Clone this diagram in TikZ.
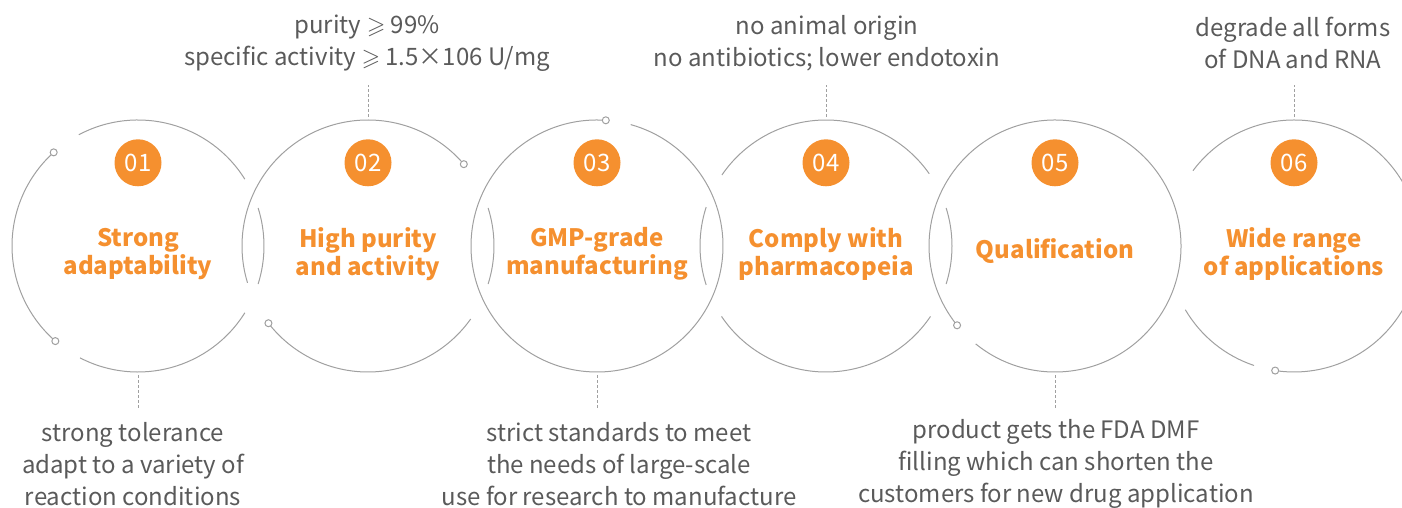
\documentclass[tikz,border=0pt]{standalone}
\usepackage{amssymb}
\usepackage{fontspec}
\setmainfont{Noto Sans CJK SC}
\usepackage{xcolor}
\usepackage{tikz}
\usetikzlibrary{positioning}
\definecolor{amber}{HTML}{F5902F}
\definecolor{ash}{HTML}{A0A0A0}
\definecolor{slate}{HTML}{5A5A5A}

\begin{document}
\begin{tikzpicture}[
  x=1pt, y=1pt,
  ring/.style={draw=ash, line width=1pt},
  hub/.style={circle, minimum size=252pt, inner sep=0pt},
  dot/.style={circle, draw=ash, fill=white, line width=1pt, inner sep=0pt, minimum size=7pt},
  badge/.style={circle, fill=amber, text=white, inner sep=0pt, minimum size=47pt, font=\fontsize{24}{24}\selectfont},
  title/.style={text=amber, align=center, font=\fontsize{24}{28}\selectfont\bfseries},
  note/.style={text=slate, align=center, font=\fontsize{24}{32}\selectfont},
  lead/.style={draw=ash, dash pattern=on 3pt off 2pt, line width=0.8pt}
]
\useasboundingbox (0,0) rectangle (1402,508);

% six rings
\node[hub] (h1) at (138,262) {};
\node[hub] (h2) at (368,262) {};
\node[hub] (h3) at (597,262) {};
\node[hub] (h4) at (826,262) {};
\node[hub] (h5) at (1055,262) {};
\node[hub] (h6) at (1294,262) {};

\draw[ring] (h1.center) ++(32:126) arc[start angle=32, end angle=118, radius=126];
\draw[ring] (h1.center) ++(132:126) node[dot] {} arc[start angle=132, end angle=229, radius=126] node[dot] {};
\draw[ring] (h1.center) ++(242.6:126) arc[start angle=242.6, end angle=328, radius=126];
\draw[ring] (h1.center) ++(-17.6:126) arc[start angle=-17.6, end angle=17.6, radius=126];

\draw[ring] (h2.center) ++(40.5:126) node[dot] {} arc[start angle=40.5, end angle=197, radius=126];
\draw[ring] (h2.center) ++(217.8:126) node[dot] {} arc[start angle=217.8, end angle=324.6, radius=126];
\draw[ring] (h2.center) ++(-17.6:126) arc[start angle=-17.6, end angle=17.6, radius=126];

\draw[ring] (h3.center) ++(86:126) node[dot] {} arc[start angle=86, end angle=434.5, radius=126];

\draw[ring] (h4.center) ++(35:126) arc[start angle=35, end angle=145.7, radius=126];
\draw[ring] (h4.center) ++(162:126) arc[start angle=162, end angle=198, radius=126];
\draw[ring] (h4.center) ++(214:126) arc[start angle=214, end angle=326, radius=126];
\draw[ring] (h4.center) ++(-17.6:126) arc[start angle=-17.6, end angle=17.6, radius=126];

\draw[ring] (h5.center) ++(231:126) arc[start angle=231, end angle=579, radius=126] node[dot] {};

\draw[ring] (h6.center) ++(143.3:126) arc[start angle=143.3, end angle=-98.6, radius=126] node[dot] {};
\draw[ring] (h6.center) ++(210.4:126) arc[start angle=210.4, end angle=251.5, radius=126];

% numbers and titles
\node[badge] (b1) at ([yshift=-43pt]h1.north) {01};
\node[badge] (b2) at ([yshift=-43pt]h2.north) {02};
\node[badge] (b3) at ([yshift=-43pt]h3.north) {03};
\node[badge] (b4) at ([yshift=-43pt]h4.north) {04};
\node[badge] (b5) at ([yshift=-43pt]h5.north) {05};
\node[badge] (b6) at ([yshift=-43pt]h6.north) {06};

\node[title] (k1) at ([yshift=-8pt]h1.center) {Strong\\adaptability};
\node[title] (k2) at ([yshift=-8pt]h2.center) {High purity\\and activity};
\node[title] (k3) at ([yshift=-8pt]h3.center) {GMP-grade\\manufacturing};
\node[title] (k4) at ([yshift=-8pt]h4.center) {Comply with\\pharmacopeia};
\node[title] (k5) at ([yshift=-5pt]h5.center) {Qualification};
\node[title] (k6) at ([yshift=-8pt]h6.center) {Wide range\\of applications};

% notes
\node[note] (t2) at (367,465) {purity $\geqslant$ 99\%\\specific activity $\geqslant$ 1.5×106 U/mg};
\node[note] (t4) at (827,465) {no animal origin\\no antibiotics; lower endotoxin};
\node[note] (t6) at (1293,465) {degrade all forms\\of DNA and RNA};
\node[note] (t1) at (133,44) {strong tolerance\\adapt to a variety of\\reaction conditions};
\node[note] (t3) at (619,44) {strict standards to meet\\the needs of large-scale\\use for research to manufacture};
\node[note] (t5) at (1056,44) {product gets the FDA DMF\\filling which can shorten the\\customers for new drug application};

\draw[lead] ([yshift=3pt]h2.north) -- ([yshift=35pt]h2.north);
\draw[lead] ([yshift=3pt]h4.north) -- ([yshift=35pt]h4.north);
\draw[lead] ([yshift=3pt]h6.north) -- ([yshift=35pt]h6.north);
\draw[lead] ([yshift=-3pt]h1.south) -- ([yshift=-36pt]h1.south);
\draw[lead] ([yshift=-3pt]h3.south) -- ([yshift=-36pt]h3.south);
\draw[lead] ([yshift=-3pt]h5.south) -- ([yshift=-36pt]h5.south);
\end{tikzpicture}
\end{document}
